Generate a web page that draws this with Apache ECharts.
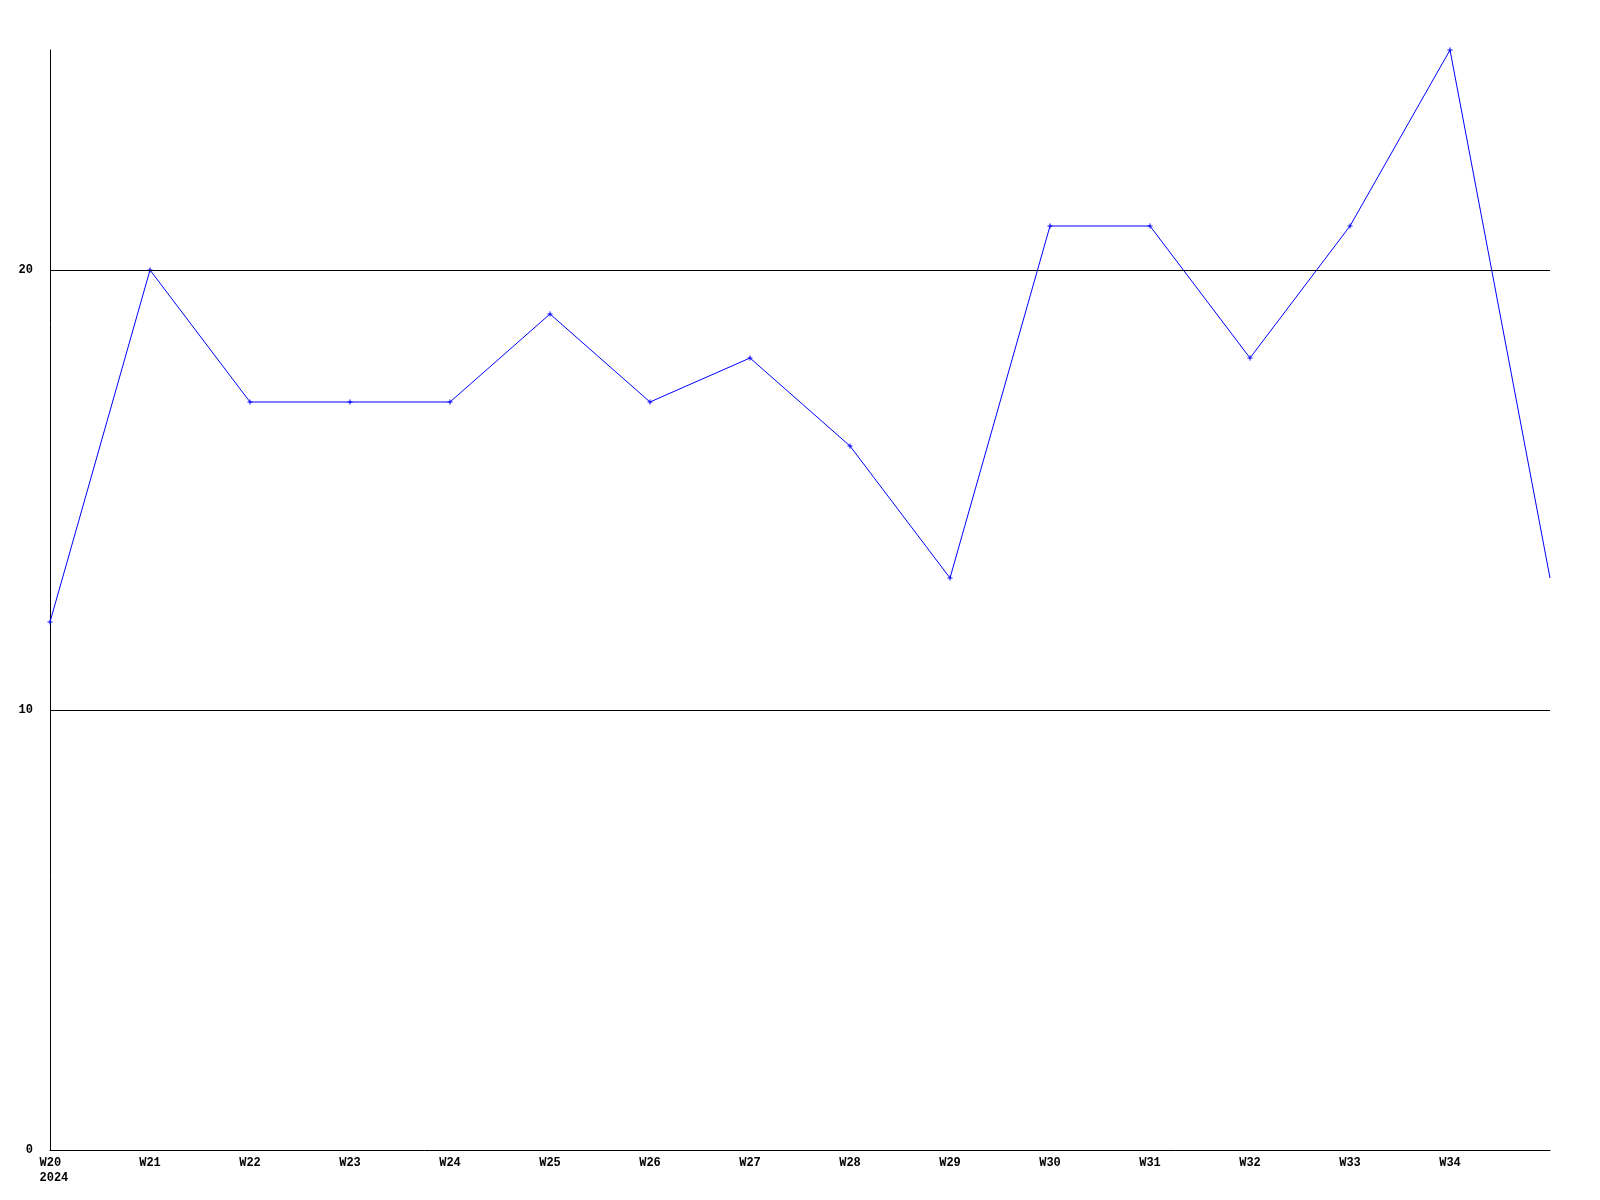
<!DOCTYPE html>
<html>
<head>
<meta charset="utf-8">
<script src="https://cdn.jsdelivr.net/npm/echarts@6/dist/echarts.min.js"></script>
<style>html,body{margin:0;padding:0;background:#fff}#c{width:1600px;height:1200px}</style>
</head>
<body>
<div id="c"></div>
<script>
const categories = ['W20','W21','W22','W23','W24','W25','W26','W27','W28','W29','W30','W31','W32','W33','W34','W35'];
const tickLabels = ['W20','W21','W22','W23','W24','W25','W26','W27','W28','W29','W30','W31','W32','W33','W34',''];
const yearLabel = '2024';
const values = [12,20,17,17,17,19,17,18,16,13,21,21,18,21,25,13];
const yTicks = [0,10,20];

const plus = 'path://M2,0H3V2H5V3H3V5H2V3H0V2H2Z';
const seriesData = values.map((v, i) => i === values.length - 1 ? {value: v, symbol: 'none'} : v);

const chart = echarts.init(document.getElementById('c'));
const font = {fontFamily:'Liberation Mono, DejaVu Sans Mono, monospace', fontWeight:'bold', fontSize:12, color:'#000'};
chart.setOption({
  animation:false,
  grid:{left:50,right:50,top:50,bottom:50},
  xAxis:{
    type:'category', data:categories, boundaryGap:false,
    axisLine:{lineStyle:{color:'#000',width:1}},
    axisTick:{show:false},
    splitLine:{show:false},
    axisLabel:Object.assign({}, font, {
      interval:0, margin:7,
      formatter:(v,i)=> i === 0 ? '{a|' + tickLabels[i] + '}\n{b|' + yearLabel + '}' : tickLabels[i],
      rich:{
        a:Object.assign({}, font, {align:'left', width:21, lineHeight:12}),
        b:Object.assign({}, font, {align:'left', width:21, lineHeight:18})
      }
    })
  },
  yAxis:{
    type:'value', min:0, max:25, interval:10,
    axisLine:{show:true,lineStyle:{color:'#000',width:1}},
    axisTick:{show:false},
    splitLine:{show:false},
    axisLabel:Object.assign({}, font, {margin:17, padding:[3,0,0,0], formatter:v=>yTicks.includes(v)?String(v):''})
  },
  series:[{
    type:'line', data:seriesData,
    lineStyle:{color:'#0000ff',width:1},
    itemStyle:{color:'#0000ff'},
    symbol:plus, symbolSize:5, showSymbol:true,
    markLine:{
      silent:true, symbol:'none', label:{show:false},
      lineStyle:{color:'#000',width:1,type:'solid'},
      data:yTicks.filter(t=>t>0).map(t=>({yAxis:t}))
    }
  }]
});
</script>
</body>
</html>
